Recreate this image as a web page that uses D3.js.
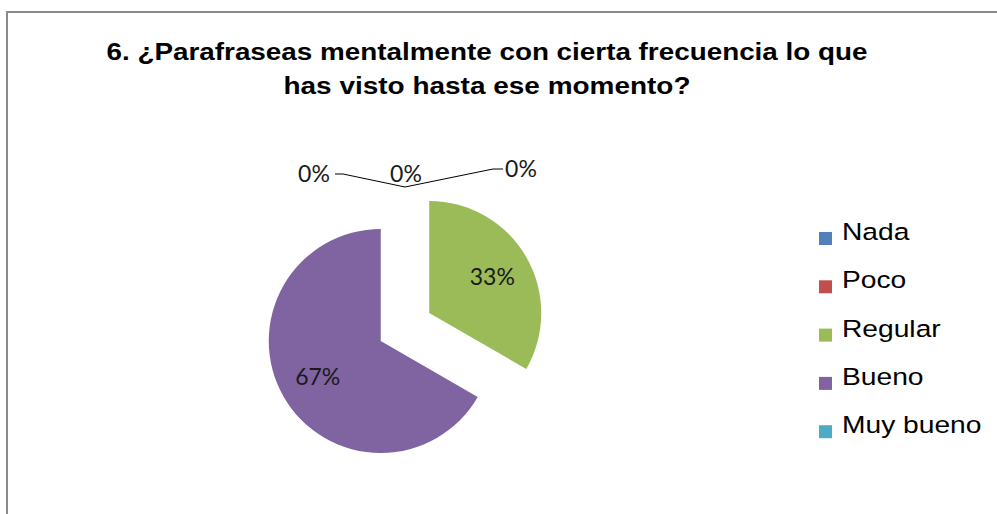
<!DOCTYPE html>
<html>

<head>
  <meta charset="utf-8">
  <title>pie-chart</title>
  <style>
    * {
      padding: 0;
      margin: 0;
    }

    body {
      background: #fff;
      overflow: hidden;
    }

    .pie-label {
      font-family: Lato, "Open Sans", sans-serif;
      font-size: 23px;
      fill: #1a1a1a;
    }

    .legend-text {
      font-family: "Liberation Sans", Arial, sans-serif;
      font-size: 23.5px;
      fill: #000;
    }

    .title {
      font-family: "Liberation Sans", Arial, sans-serif;
      font-size: 23px;
      font-weight: bold;
      fill: #000;
    }
  </style>
</head>

<body>
  <svg id="svg"></svg>
  <script src="https://cdnjs.cloudflare.com/ajax/libs/d3/7.8.5/d3.min.js"></script>
  <script>
    // datos del gráfico
    const categories = ['Nada', 'Poco', 'Regular', 'Bueno', 'Muy bueno']
    const values = [0, 0, 1, 2, 0]
    const colors = ['#4F81BD', '#C0504D', '#9BBB59', '#8064A2', '#4BACC6']
    const titleLines = ['6. ¿Parafraseas mentalmente con cierta frecuencia lo que', 'has visto hasta ese momento?']

    const dimension = {
      width: 997,
      height: 514,
      cx: 405,
      cy: 327,
      radius: 112,
      explode: 28
    }

    const svg = d3.select('#svg').attr('width', dimension.width).attr('height', dimension.height);

    // marco
    svg.append('rect')
      .attr('x', 7)
      .attr('y', 12)
      .attr('width', 1000)
      .attr('height', 520)
      .attr('fill', 'none')
      .attr('stroke', '#8a8a8a')
      .attr('stroke-width', 2);

    // título (el original se ve ensanchado)
    const titleWidths = [761, 407]
    svg.append('g')
      .selectAll('text')
      .data(titleLines)
      .enter()
      .append('text')
      .attr('class', 'title')
      .attr('x', 487)
      .attr('y', (d, i) => 60 + i * 34)
      .attr('text-anchor', 'middle')
      .attr('textLength', (d, i) => titleWidths[i])
      .attr('lengthAdjust', 'spacingAndGlyphs')
      .text(d => d);

    const total = d3.sum(values)
    const pieData = d3.pie().sort(null).startAngle(0).endAngle(2 * Math.PI)(values.map((v, i) => ({ name: categories[i], value: v, color: colors[i] })).map(d => d.value))
      .map((p, i) => Object.assign(p, { name: categories[i], color: colors[i] }));

    const arc = d3.arc().innerRadius(0).outerRadius(dimension.radius);
    const labelArc = d3.arc().innerRadius(dimension.radius * 0.65).outerRadius(dimension.radius * 0.65);

    const offset = d => {
      const a = (d.startAngle + d.endAngle) / 2
      return [Math.sin(a) * dimension.explode, -Math.cos(a) * dimension.explode]
    }

    const pieG = svg.append('g').attr('transform', `translate(${dimension.cx}, ${dimension.cy})`);

    pieG.selectAll('path')
      .data(pieData.filter(d => d.value > 0))
      .enter()
      .append('path')
      .attr('d', arc)
      .attr('fill', d => d.color)
      .attr('transform', d => `translate(${offset(d)})`);

    const pct = d => Math.round(d.value / total * 100) + '%'

    pieG.selectAll('text.inner')
      .data(pieData.filter(d => d.value > 0))
      .enter()
      .append('text')
      .attr('class', 'pie-label')
      .attr('text-anchor', 'middle')
      .attr('dy', '0.35em')
      .attr('transform', d => {
        const c = labelArc.centroid(d), o = offset(d)
        return `translate(${c[0] + o[0]}, ${c[1] + o[1]})`
      })
      .text(pct);

    // etiquetas de 0% con líneas guía
    const zeroLabelPos = { 'Nada': [-91, -13], 'Poco': [1, -13], 'Muy bueno': [116, -18] }
    const zeros = pieData.filter(d => d.value === 0)
    const tip = d => {
      const a = d.startAngle, r = dimension.radius + dimension.explode
      return [Math.sin(a) * r, -Math.cos(a) * r]
    }

    zeros.forEach(d => {
      const t = tip(d), p = zeroLabelPos[d.name]
      const lx = t[0] + p[0], ly = t[1] + p[1]
      if (d.name === 'Nada') {
        pieG.append('path')
          .attr('d', d3.line()([[lx + 21, ly], [lx + 29, ly], t]))
          .attr('fill', 'none').attr('stroke', '#000').attr('stroke-width', 1);
      }
      if (d.name === 'Muy bueno') {
        pieG.append('path')
          .attr('d', d3.line()([t, [lx - 28, ly], [lx - 18, ly]]))
          .attr('fill', 'none').attr('stroke', '#000').attr('stroke-width', 1);
      }
      pieG.append('text')
        .attr('class', 'pie-label')
        .attr('text-anchor', 'middle')
        .attr('x', lx)
        .attr('y', ly)
        .attr('dy', '0.35em')
        .text(pct(d));
    });

    // leyenda
    const legend = svg.append('g').attr('transform', 'translate(819, 240)');
    const rows = legend.selectAll('g')
      .data(categories)
      .enter()
      .append('g')
      .attr('transform', (d, i) => `translate(0, ${i * 48.3})`);

    rows.append('rect')
      .attr('x', 0)
      .attr('y', -8)
      .attr('width', 13)
      .attr('height', 13)
      .attr('fill', (d, i) => colors[i]);

    rows.append('text')
      .attr('class', 'legend-text')
      .attr('transform', 'translate(23, 0) scale(1.2, 1)')
      .text(d => d);
  </script>

</body>

</html>
